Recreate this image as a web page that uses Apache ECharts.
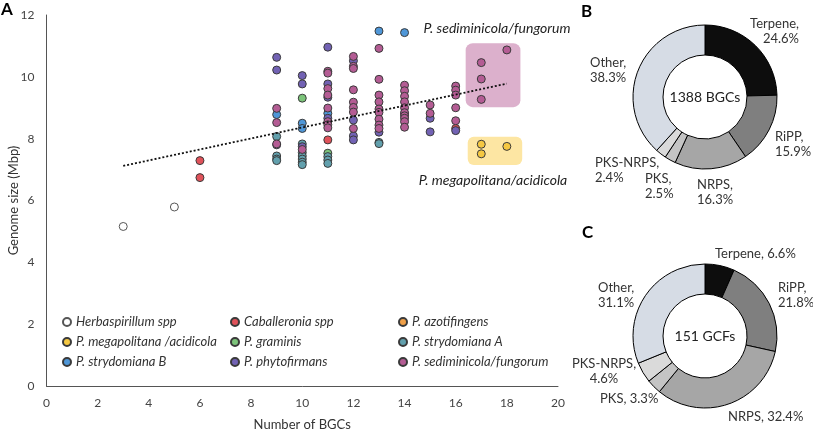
<!DOCTYPE html>
<html><head><meta charset="utf-8">
<script src="https://cdn.jsdelivr.net/npm/echarts@6/dist/echarts.min.js"></script>
<style>html,body{margin:0;padding:0;background:#fff}#c{width:813px;height:429px}</style>
</head><body><div id="c"></div>
<script>
// ---------- data ----------
const herbaspirillum = [[3,5.16],[5,5.79]];
const caballeronia = [[6,7.29],[6,6.74],[11,7.96],[16,8.33]];
const azotifingens = [];
const megapolitana = [[17,7.82],[17,7.51],[18,7.75]];
const graminis = [[10,9.31],[11,7.53]];
const strydomianaA = [[9,8.07],[9,7.44],[9,7.34],[9,7.29],[10,7.83],[10,7.55],[10,7.44],[10,7.34],[10,7.24],[10,7.16],[11,7.42],[11,7.31],[11,7.2],[13,7.88],[13,7.84]];
const strydomianaB = [[9,8.78],[10,8.5],[10,8.33],[11,8.82],[13,11.48],[14,11.43]];
const phytofirmans = [[9,10.63],[9,10.22],[9,7.8],[10,10.04],[10,9.77],[10,7.74],[11,10.96],[11,9.77],[11,9.34],[11,8.66],[12,10.52],[12,8.6],[12,8.09],[12,7.96],[13,8.21],[14,8.8],[15,8.66],[15,8.22],[16,8.26]];
const sediminicola = [[9,8.98],[9,8.52],[9,7.83],[10,7.65],[11,10.18],[11,10.12],[11,9.62],[11,9.41],[11,8.99],[11,8.55],[11,8.45],[11,8.35],
  [12,10.66],[12,10.34],[12,10.27],[12,9.58],[12,9.18],[12,9.01],[12,8.86],[12,8.33],
  [13,10.92],[13,9.92],[13,9.41],[13,9.19],[13,8.96],[13,8.85],[13,8.63],[13,8.44],[13,8.33],
  [14,9.73],[14,9.55],[14,9.37],[14,9.19],[14,9.0],[14,8.84],[14,8.74],[14,8.66],[14,8.55],[14,8.37],
  [15,9.09],[15,8.82],[16,9.7],[16,9.57],[16,9.41],[16,9.0],[16,8.58],[17,10.46],[17,9.93],[17,9.27],[18,10.87]];
const trendline = [[3,7.12],[18,9.78]];

const groupNames = ['Herbaspirillum spp','Caballeronia spp','P. azotifingens','P. megapolitana /acidicola','P. graminis','P. strydomiana A','P. strydomiana B','P. phytofirmans','P. sediminicola/fungorum'];
const groupData = [herbaspirillum,caballeronia,azotifingens,megapolitana,graminis,strydomianaA,strydomianaB,phytofirmans,sediminicola];
const groupColors = ['#ffffff','#e0525a','#f0a048','#f5c842','#7cc47a','#62a0ad','#4f97d8','#7262b4','#b45c94'];

const xTicks = {min:0,max:20,interval:2};
const yTicks = {min:0,max:12,interval:2};

const bgcCategories = ['Terpene','RiPP','NRPS','PKS','PKS-NRPS','Other'];
const bgcValues = [24.6,15.9,16.3,2.5,2.4,38.3];
const gcfValues = [6.6,21.8,32.4,3.3,4.6,31.1];
const bgcTotal = '1388 BGCs';
const gcfTotal = '151 GCFs';
const sliceColors = ['#0d0d0d','#7f7f7f','#a6a6a6','#c4c4c4','#dadada','#d6dce5'];

// ---------- layout (not data) ----------
const FONT = 'Lato';
const sepB = ['\n','\n','\n','\n','\n','\n'];
const sepC = [' ','\n',' ',' ','\n','\n'];
const posB = [[799,31,'right'],[775,144,'left'],[697,192,'left'],[645,186,'left'],[595,170,'left'],[590,70,'left']];
const posC = [[715,254,'left'],[778,295,'left'],[728,417,'left'],[600,399,'left'],[604,371,'center'],[598,295,'left']];

const chart = echarts.init(document.getElementById('c'));

const scatterSeries = groupNames.map((n,i)=>({
  name:n, type:'scatter', data:groupData[i], symbolSize:8, z:3,
  itemStyle:{color:groupColors[i], borderColor: i===0?'#555':'#3a3a3a', borderWidth:1, opacity:1}
}));

function pie(name, values, center, sep, pos){
  return {
    name, type:'pie', radius:[42,72], center, startAngle:90, clockwise:true,
    silent:true, avoidLabelOverlap:false,
    data: bgcCategories.map((c,i)=>({name:c,value:values[i],itemStyle:{color:sliceColors[i]}})),
    itemStyle:{borderColor:'#000',borderWidth:1},
    label:{show:true, position:'outside', alignTo:'none', overflow:'none', fontFamily:FONT, fontSize:13, color:'#333', lineHeight:15,
      formatter:p=>p.name+','+sep[p.dataIndex]+p.value+'%'},
    labelLine:{show:false},
    labelLayout:p=>{const q=pos[p.dataIndex];return {x:q[0],y:q[1],align:q[2],verticalAlign:'middle',hideOverlap:false};}
  };
}

const legendStyle = {icon:'circle', itemWidth:8, itemHeight:8, itemGap:6, orient:'vertical',
  textStyle:{fontFamily:FONT, fontStyle:'italic', fontSize:13, color:'#333', lineHeight:14}, selectedMode:false};

chart.setOption({
  animation:false,
  textStyle:{fontFamily:FONT},
  grid:{left:46.5, right:255, top:15, bottom:43, containLabel:false, outerBoundsMode:'none'},
  xAxis:{type:'value', min:xTicks.min, max:xTicks.max, interval:xTicks.interval,
    name:'Number of BGCs', nameLocation:'middle', nameGap:32, nameMoveOverlap:false,
    nameTextStyle:{fontFamily:FONT, fontSize:13, color:'#333'},
    axisLine:{lineStyle:{color:'#555'}}, axisTick:{show:false}, splitLine:{show:false},
    axisLabel:{fontFamily:FONT, fontSize:12, color:'#444', margin:11}},
  yAxis:{type:'value', min:yTicks.min, max:yTicks.max, interval:yTicks.interval,
    name:'Genome size (Mbp)', nameLocation:'middle', nameGap:26, nameMoveOverlap:false,
    nameTextStyle:{fontFamily:FONT, fontSize:13, color:'#333'},
    axisLine:{show:true, lineStyle:{color:'#555'}}, axisTick:{show:false}, splitLine:{show:false},
    axisLabel:{fontFamily:FONT, fontSize:12, color:'#444', margin:12}},
  legend:[
    Object.assign({left:57, top:310, data:[groupNames[0],groupNames[3],groupNames[6]]}, legendStyle),
    Object.assign({left:225, top:310, data:[groupNames[1],groupNames[4],groupNames[7]]}, legendStyle),
    Object.assign({left:393, top:310, data:[groupNames[2],groupNames[5],groupNames[8]]}, legendStyle)
  ],
  series: scatterSeries.concat([
    {type:'line', data:trendline, symbol:'none', silent:true, z:4,
     lineStyle:{color:'#111', width:1.8, type:[2,2]}},
    pie('BGC', bgcValues, [705,97], sepB, posB),
    pie('GCF', gcfValues, [705,336], sepC, posC)
  ])
});

const p1 = chart.convertToPixel({gridIndex:0},[16.39,11.09]);
const p2 = chart.convertToPixel({gridIndex:0},[18.53,9.02]);
const q1 = chart.convertToPixel({gridIndex:0},[16.47,8.06]);
const q2 = chart.convertToPixel({gridIndex:0},[18.6,7.15]);

chart.setOption({
  graphic:[
    {type:'rect', z:1, shape:{x:p1[0],y:p1[1],width:p2[0]-p1[0],height:p2[1]-p1[1],r:7}, style:{fill:'#dcb0cc'}},
    {type:'rect', z:1, shape:{x:q1[0],y:q1[1],width:q2[0]-q1[0],height:q2[1]-q1[1],r:6}, style:{fill:'#fde6a3'}},
    {type:'text', x:497, y:28, style:{text:'P. sediminicola/fungorum', font:'italic 14px '+FONT, fill:'#222', align:'center', verticalAlign:'middle'}},
    {type:'text', x:493, y:180, style:{text:'P. megapolitana/acidicola', font:'italic 14px '+FONT, fill:'#222', align:'center', verticalAlign:'middle'}},
    {type:'text', x:705, y:97, style:{text:bgcTotal, font:'14px '+FONT, fill:'#222', align:'center', verticalAlign:'middle'}},
    {type:'text', x:705, y:336, style:{text:gcfTotal, font:'14px '+FONT, fill:'#222', align:'center', verticalAlign:'middle'}},
    {type:'text', x:1, y:1, style:{text:'A', font:'bold 17px '+FONT, fill:'#000'}},
    {type:'text', x:581, y:3, style:{text:'B', font:'bold 17px '+FONT, fill:'#000'}},
    {type:'text', x:582, y:224, style:{text:'C', font:'bold 17px '+FONT, fill:'#000'}}
  ]
});
</script></body></html>
